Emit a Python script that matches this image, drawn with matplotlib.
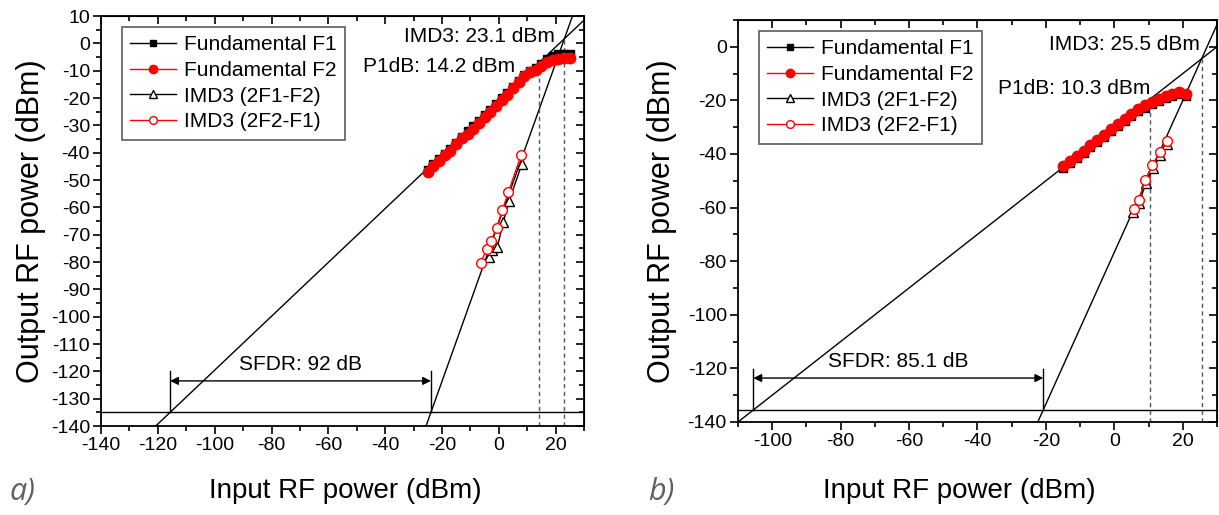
import matplotlib
matplotlib.use('Agg')
import matplotlib.pyplot as plt
from matplotlib.ticker import MultipleLocator

plt.rcParams['font.family'] = ['Liberation Sans', 'DejaVu Sans']
plt.rcParams['axes.unicode_minus'] = False

# ---- panel a data ----
a_fund_x = [-25, -23, -21, -19, -17, -15, -13, -11, -9, -7, -5, -3, -1,
            1, 3, 5, 7, 9, 11, 13, 15, 17, 19, 21, 23, 25]
a_f1_y = [-46.2, -44.3, -42.2, -40.3, -38.5, -36.3, -34.2, -32.2, -30.4, -28.3,
          -26.3, -24.3, -22.2, -20.1, -18.1, -15.8, -13.6, -11.6, -10.2, -8.9,
          -7.4, -5.8, -4.6, -4.0, -3.8, -3.8]
a_f2_y = [-47.0, -45.0, -43.0, -41.0, -39.3, -37.0, -34.8, -33.0, -31.2, -29.0,
          -27.0, -25.0, -22.9, -20.8, -18.8, -16.3, -14.0, -11.9, -10.6, -9.6,
          -8.2, -7.0, -6.1, -5.6, -5.3, -5.2]
a_imd1_x = [-3.5, -2.3, -0.5, 1.6, 3.6, 8.1]
a_imd1_y = [-78.2, -75.7, -74.5, -65.3, -57.8, -44.2]
a_imd2_x = [-6.3, -4.3, -2.8, -0.8, 1.3, 3.4, 7.8]
a_imd2_y = [-80.2, -75.3, -72.4, -67.5, -60.8, -54.4, -40.9]
a_fund_fit = (0.985, -21.05)   # slope, intercept
a_imd_fit = (2.91, -65.5)
a_noise = -135
a_iip3 = 23.1
a_p1db = (14.2, -8.5)

# ---- panel b data ----
b_fund_x = [-15, -13, -11, -9, -7, -5, -3, -1, 1, 3, 5, 7, 9, 11, 13, 15, 17, 19, 21]
b_f1_y = [-45.1, -43.3, -41.4, -39.5, -37.4, -35.5, -33.6, -31.6, -29.6, -27.7,
          -25.7, -24.1, -22.7, -21.5, -20.4, -19.2, -18.3, -17.8, -18.3]
b_f2_y = [-44.4, -42.6, -40.6, -38.7, -36.6, -34.7, -32.8, -30.8, -28.8, -26.9,
          -24.9, -23.3, -21.9, -20.7, -19.6, -18.4, -17.5, -17.0, -17.6]
b_imd1_x = [5.6, 7.3, 9.2, 11.3, 13.5, 15.5]
b_imd1_y = [-61.5, -58.3, -50.8, -45.3, -40.4, -36.3]
b_imd2_x = [5.7, 7.2, 9.0, 11.1, 13.3, 15.3]
b_imd2_y = [-60.4, -57.2, -49.7, -44.2, -39.3, -35.2]
b_fund_fit = (1.0, -30.0)
b_imd_fit = (2.83, -76.7)
b_noise = -135.5
b_iip3 = 25.5
b_p1db = (10.3, -21.0)

fig = plt.figure(figsize=(12.19, 5.15), dpi=100)


def style_axes(ax, xlim, ylim, xmaj, ymaj):
    ax.set_xlim(xlim)
    ax.set_ylim(ylim)
    ax.xaxis.set_major_locator(MultipleLocator(xmaj))
    ax.xaxis.set_minor_locator(MultipleLocator(xmaj / 2))
    ax.yaxis.set_major_locator(MultipleLocator(ymaj))
    ax.yaxis.set_minor_locator(MultipleLocator(ymaj / 2))
    ax.tick_params(which='both', direction='out', labelsize=14, width=1.2)
    ax.tick_params(which='major', length=6, pad=2)
    ax.tick_params(which='minor', length=3.5)
    for s in ax.spines.values():
        s.set_linewidth(1.3)
    # mirrored ticks pointing inward on top/right
    top = ax.secondary_xaxis('top')
    top.xaxis.set_major_locator(MultipleLocator(xmaj))
    top.xaxis.set_minor_locator(MultipleLocator(xmaj / 2))
    top.tick_params(which='both', direction='in', labeltop=False, width=1.2)
    top.tick_params(which='major', length=6)
    top.tick_params(which='minor', length=3.5)
    right = ax.secondary_yaxis('right')
    right.yaxis.set_major_locator(MultipleLocator(ymaj))
    right.yaxis.set_minor_locator(MultipleLocator(ymaj / 2))
    right.tick_params(which='both', direction='in', labelright=False, width=1.2)
    right.tick_params(which='major', length=6)
    right.tick_params(which='minor', length=3.5)


def draw_panel(ax, fund_x, f1_y, f2_y, imd1_x, imd1_y, imd2_x, imd2_y,
               fund_fit, imd_fit, noise, iip3, p1db, xlim, sfdr_txt, sfdr_y):
    # fitted lines
    xs = [xlim[0] - 5, xlim[1] + 5]
    ax.plot(xs, [fund_fit[0] * x + fund_fit[1] for x in xs], color='black', lw=1, zorder=1)
    ax.plot(xs, [imd_fit[0] * x + imd_fit[1] for x in xs], color='black', lw=1, zorder=1)
    ax.axhline(noise, color='black', lw=1, zorder=1)

    # dashed guide lines
    iip3_y = fund_fit[0] * iip3 + fund_fit[1]
    ax.plot([iip3, iip3], [-140, iip3_y], color='#555555', lw=1, ls=(0, (3, 2.5)), zorder=1)
    ax.plot([p1db[0], p1db[0]], [-140, p1db[1]], color='#555555', lw=1, ls=(0, (3, 2.5)), zorder=1)

    # measured data
    ax.plot(fund_x, f1_y, color='black', lw=1, marker='s', ms=6,
            label='Fundamental F1', zorder=3)
    ax.plot(fund_x, f2_y, color='red', lw=1, marker='o', ms=7.5,
            label='Fundamental F2', zorder=4)
    ax.plot(imd1_x, imd1_y, color='black', lw=1, marker='^', ms=7,
            mfc='white', mec='black', mew=1, label='IMD3 (2F1-F2)', zorder=3)
    ax.plot(imd2_x, imd2_y, color='red', lw=1, marker='o', ms=7,
            mfc='white', mec='red', mew=1, label='IMD3 (2F2-F1)', zorder=4)

    # SFDR span
    x_lo = (noise - fund_fit[1]) / fund_fit[0]
    x_hi = (noise - imd_fit[1]) / imd_fit[0]
    for xv in (x_lo, x_hi):
        ax.plot([xv, xv], [noise, sfdr_y + 3.5], color='black', lw=1, zorder=1)
    ax.annotate('', xy=(x_lo, sfdr_y), xytext=(x_hi, sfdr_y),
                arrowprops=dict(arrowstyle='<|-|>', color='black', lw=1,
                                mutation_scale=12, shrinkA=0, shrinkB=0))
    ax.text((x_lo + x_hi) / 2, sfdr_y + 6, sfdr_txt, ha='center', va='center', fontsize=15)

    leg = ax.legend(loc='upper left', bbox_to_anchor=(0.043, 0.973), fontsize=15,
                    frameon=True, fancybox=False, edgecolor='#333333',
                    handlelength=2.2, handletextpad=0.4, labelspacing=0.32,
                    borderpad=0.4, borderaxespad=0, markerscale=0.8)
    leg.get_frame().set_linewidth(1.2)


# ---- panel a ----
ax1 = fig.add_axes([0.0829, 0.1728, 0.3962, 0.7961])
style_axes(ax1, (-140, 30), (-140, 10), 20, 10)
draw_panel(ax1, a_fund_x, a_f1_y, a_f2_y, a_imd1_x, a_imd1_y, a_imd2_x, a_imd2_y,
           a_fund_fit, a_imd_fit, a_noise, a_iip3, a_p1db, (-140, 30),
           'SFDR: 92 dB', -123.5)
ax1.text(19.7, 2.4, 'IMD3: 23.1 dBm', ha='right', va='center', fontsize=15)
ax1.text(5.6, -8.6, 'P1dB: 14.2 dBm', ha='right', va='center', fontsize=15)
ax1.set_xlabel('Input RF power (dBm)', fontsize=20, va='center')
ax1.set_ylabel('Output RF power (dBm)', fontsize=22, va='center')
ax1.xaxis.set_label_coords(0.505, -0.158)
ax1.yaxis.set_label_coords(-0.145, 0.5)

# ---- panel b ----
ax2 = fig.add_axes([0.6054, 0.1806, 0.3929, 0.7806])
style_axes(ax2, (-110, 30), (-140, 10), 20, 20)
draw_panel(ax2, b_fund_x, b_f1_y, b_f2_y, b_imd1_x, b_imd1_y, b_imd2_x, b_imd2_y,
           b_fund_fit, b_imd_fit, b_noise, b_iip3, b_p1db, (-110, 30),
           'SFDR: 85.1 dB', -123.6)
ax2.text(25.1, 0.7, 'IMD3: 25.5 dBm', ha='right', va='center', fontsize=15)
ax2.text(10.6, -15.4, 'P1dB: 10.3 dBm', ha='right', va='center', fontsize=15)
ax2.set_xlabel('Input RF power (dBm)', fontsize=20, va='center')
ax2.set_ylabel('Output RF power (dBm)', fontsize=22, va='center')
ax2.xaxis.set_label_coords(0.463, -0.171)
ax2.yaxis.set_label_coords(-0.159, 0.5)

# panel tags
fig.text(0.008, 0.045, 'a)', fontsize=22, style='italic', color='#606060',
         family=['Open Sans', 'DejaVu Sans'], va='center')
fig.text(0.532, 0.045, 'b)', fontsize=22, style='italic', color='#606060',
         family=['Open Sans', 'DejaVu Sans'], va='center')

fig.savefig('out.png', dpi=100)
